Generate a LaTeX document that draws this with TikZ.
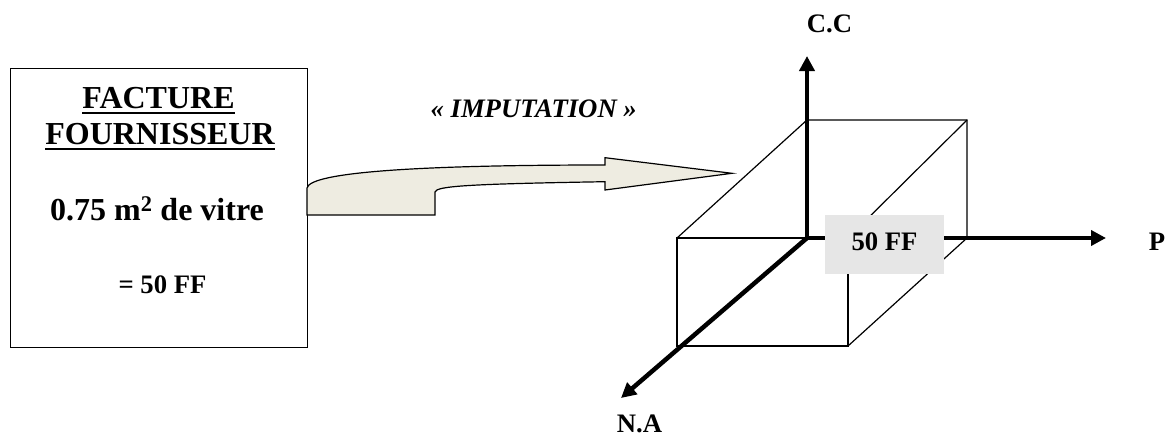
\documentclass[tikz,border=0pt]{standalone}
\usepackage{fontspec}
\setmainfont{Liberation Serif}
\usetikzlibrary{arrows.meta}
\definecolor{arrowfill}{HTML}{EEECE1}
\definecolor{labelgray}{HTML}{E6E6E6}
\tikzset{
  txt/.style={inner sep=0pt, font=\bfseries\fontsize{26.7}{32}\selectfont},
  bigtxt/.style={inner sep=0pt, font=\bfseries\fontsize{32}{38}\selectfont},
  axisline/.style={line width=4.5pt, -{Triangle[length=15pt,width=15pt]}},
  cubeedge/.style={line width=1.2pt},
  uline/.style={line width=2pt},
}
\begin{document}
\begin{tikzpicture}[x=1pt,y=-1pt]
\useasboundingbox (0,0) rectangle (1169,436);
% invoice box
\node[draw, line width=1.3pt, minimum width=297pt, minimum height=279pt, inner sep=0pt, anchor=north west] (facture) at (10,68) {};
\node[bigtxt, anchor=base] (t1) at (158.5,108.3) {FACTURE};
\node[bigtxt, anchor=base] (t2) at (160,144) {FOURNISSEUR};
\draw[uline] ([yshift=-5pt]t1.base west) -- ([yshift=-5pt]t1.base east);
\draw[uline] ([yshift=-5pt]t2.base west) -- ([yshift=-5pt]t2.base east);
\node[bigtxt, anchor=base] (t3) at (157,220.7) {0.75 m\textsuperscript{2} de vitre};
\node[txt, anchor=base] (t4) at (162.5,293) {= 50 FF};
% block arrow
\draw[fill=arrowfill, line width=1.2pt, line join=miter]
  (307,215) -- (435,215) -- (435,192)
  .. controls (436,186) and (470,184) .. (605,181.7)
  -- (605,190) -- (732,173.3) -- (605,157.7) -- (605,165)
  .. controls (420,165) and (310,172) .. (307,188) -- cycle;
\node[txt, anchor=base east, font=\bfseries\itshape\fontsize{26.7}{32}\selectfont] (imp) at (637,117) {« IMPUTATION »};
% cube
\coordinate (O) at (807,238);
\coordinate (A) at (677,238);
\coordinate (B) at (848,238);
\coordinate (C) at (848,346);
\coordinate (D) at (677,346);
\coordinate (E) at (807,120);
\coordinate (F) at (967,120);
\coordinate (G) at (967,238);
\draw[cubeedge] (A) -- (B) -- (C) -- (D) -- cycle;
\draw[cubeedge] (A) -- (E) -- (F) -- (G);
\draw[cubeedge] (B) -- (F);
\draw[cubeedge] (C) -- (G);
% axes
\coordinate (ytip) at (807,56);
\coordinate (xtip) at (1106,238);
\coordinate (ztip) at (621,398);
\draw[axisline] (O) -- (ytip);
\draw[axisline] (O) -- (xtip);
\draw[axisline] (O) -- (ztip);
% value label
\node[txt, fill=labelgray, minimum width=119pt, minimum height=59pt, text depth=6.7pt] (val) at (884.5,244.5) {50 FF};
% axis labels
\node[txt, anchor=base] (cc) at (829.5,33) {C.C};
\node[txt, anchor=base] (p) at (1157,250) {P};
\node[txt, anchor=base] (na) at (639.5,432) {N.A};
\end{tikzpicture}
\end{document}
